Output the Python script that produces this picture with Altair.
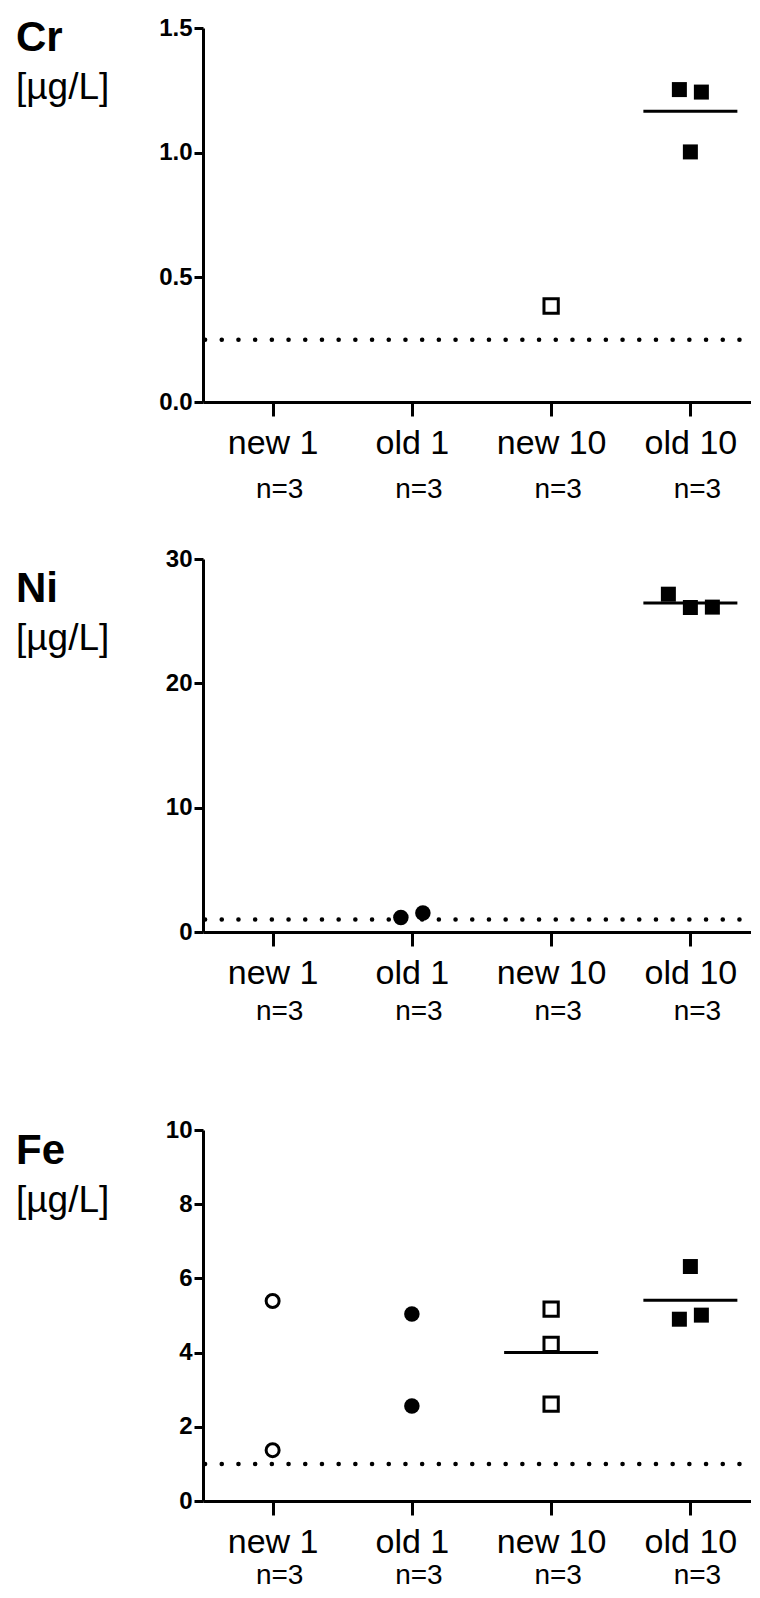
import json
import altair as alt
import pandas as pd

# ---------------- data ----------------
groups = ["new 1", "old 1", "new 10", "old 10"]
n_per_group = [3, 3, 3, 3]
unit_label = "[µg/L]"

# Cr
cr_group = ["new 10", "old 10", "old 10", "old 10"]
cr_value = [0.385, 1.253, 1.243, 1.003]
cr_slot = [0, -1, 1, 0]          # side-by-side column slot of each point
cr_lod = 0.25

# Ni
ni_group = ["old 1", "old 1", "old 10", "old 10", "old 10"]
ni_value = [1.17, 1.52, 27.17, 26.10, 26.13]
ni_slot = [-1, 1, -2, 0, 2]
ni_lod = 1.0

# Fe
fe_group = ["new 1", "new 1", "old 1", "old 1", "new 10", "new 10", "new 10",
            "old 10", "old 10", "old 10"]
fe_value = [5.39, 1.37, 5.04, 2.56, 5.17, 4.22, 2.61, 6.32, 4.90, 5.01]
fe_slot = [0, 0, 0, 0, 0, 0, 0, 0, -1, 1]
fe_lod = 1.0

# ---------------- styling ----------------
UNIT = 139.25           # px per category step
W = 548                 # plot width (axis ends a little before the page edge)
XMAX = 0.5 + W / UNIT
SLOT = 11 / UNIT        # jitter step in category units
HALF = 47 / UNIT        # half-width of the mean line
FONT = "Liberation Sans"

MARKER = {
    "new 1": dict(shape="circle", fill="white", strokeWidth=3, size=169),
    "old 1": dict(shape="circle", fill="black", strokeWidth=0, size=240),
    "new 10": dict(shape="square", fill="white", strokeWidth=3, size=204),
    "old 10": dict(shape="square", fill="black", strokeWidth=0, size=225),
}

idx_expr = "indexof(%s, datum.group) + 1" % json.dumps(groups)
label_expr = "%s[datum.value - 1]" % json.dumps(groups)

xscale = alt.Scale(domain=[0.5, XMAX], nice=False, zero=False)
xaxis = alt.Axis(values=[1, 2, 3, 4], labelExpr=label_expr, title=None, grid=False,
                 tickSize=14, tickWidth=3, domainWidth=3, domainColor="black",
                 tickColor="black", labelColor="black", labelFont=FONT,
                 labelFontSize=34, labelBaseline="alphabetic", labelPadding=37,
                 labelFlush=False, labelOverlap=False)


def panel(name, grp, val, slot, lod, ymax, yvals, fmt, H, t_base, n_base):
    yscale = alt.Scale(domain=[0, ymax], nice=False, zero=True)
    yaxis = alt.Axis(values=yvals, format=fmt, title=None, grid=False,
                     tickSize=9, tickWidth=3, domainWidth=3, domainColor="black",
                     tickColor="black", labelColor="black", labelFont=FONT,
                     labelFontSize=24, labelFontWeight="bold", labelPadding=2)
    df = pd.DataFrame({"group": grp, "value": val, "slot": slot})
    base = alt.Chart(df).transform_calculate(idx=idx_expr)

    lod_rule = alt.Chart(pd.DataFrame({"lod": [lod]})).mark_rule(
        color="black", strokeWidth=4.5, strokeCap="round", strokeDash=[0.1, 16.6]
    ).encode(y=alt.Y("lod:Q", scale=yscale, axis=yaxis),
             x=alt.value(2), x2=alt.value(W))

    mean = base.transform_aggregate(
        mean="mean(value)", count="count()", groupby=["group", "idx"]
    ).transform_filter("datum.count >= 3").transform_calculate(
        xa="datum.idx - %f" % HALF, xb="datum.idx + %f" % HALF
    ).mark_rule(color="black", strokeWidth=3).encode(
        x=alt.X("xa:Q", scale=xscale, axis=xaxis),
        x2="xb:Q",
        y=alt.Y("mean:Q", scale=yscale, axis=yaxis),
    )

    point_layers = []
    for g in groups:
        st = MARKER[g]
        point_layers.append(
            base.transform_filter(alt.datum.group == g).transform_calculate(
                xpos="datum.idx + datum.slot * %f" % SLOT
            ).mark_point(filled=True, opacity=1, stroke="black", shape=st["shape"],
                         fill=st["fill"], strokeWidth=st["strokeWidth"], size=st["size"]
            ).encode(
                x=alt.X("xpos:Q", scale=xscale, axis=xaxis),
                y=alt.Y("value:Q", scale=yscale, axis=yaxis),
            )
        )

    ntext = alt.Chart(pd.DataFrame({"group": groups, "n": n_per_group})).transform_calculate(
        idx=idx_expr, lab="'n=' + datum.n"
    ).mark_text(font=FONT, fontSize=28, dx=7, baseline="alphabetic", color="black").encode(
        x=alt.X("idx:Q", scale=xscale, axis=xaxis),
        y=alt.value(H + n_base),
        text="lab:N",
    )

    title = alt.Chart(pd.DataFrame({"t": [name]})).mark_text(
        font=FONT, fontSize=42, fontWeight="bold", align="left", baseline="alphabetic",
        color="black"
    ).encode(x=alt.value(-187), y=alt.value(t_base), text="t:N")

    unit = alt.Chart(pd.DataFrame({"t": [unit_label]})).mark_text(
        font=FONT, fontSize=37, align="left", baseline="alphabetic", color="black"
    ).encode(x=alt.value(-187), y=alt.value(t_base + 48), text="t:N")

    return alt.layer(lod_rule, mean, *point_layers, ntext, title, unit).properties(
        width=W, height=H)


cr = panel("Cr", cr_group, cr_value, cr_slot, cr_lod, 1.5, [0, 0.5, 1.0, 1.5], ".1f", 374, 23, 96)
ni = panel("Ni", ni_group, ni_value, ni_slot, ni_lod, 30, [0, 10, 20, 30], "d", 373, 43, 88)
fe = panel("Fe", fe_group, fe_value, fe_slot, fe_lod, 10, [0, 2, 4, 6, 8, 10], "d", 371, 34, 83)

chart = alt.vconcat(alt.vconcat(cr, ni, spacing=43), fe, spacing=92).properties(
    padding={"left": 8, "top": 8, "right": -3, "bottom": 0}
).configure_view(strokeWidth=0)

chart.save("out.html", embed_options={"renderer": "svg", "actions": False})
